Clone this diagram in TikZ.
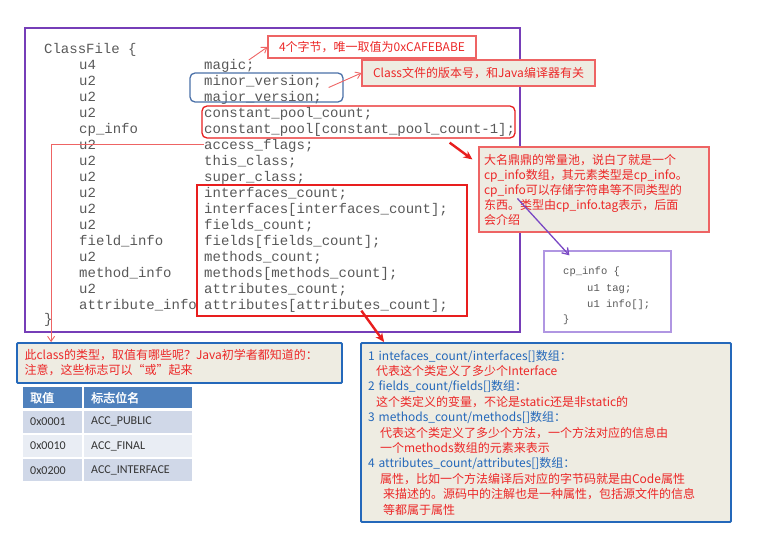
\documentclass[tikz,border=0pt]{standalone}
\usepackage{fontspec}
\setmonofont{Liberation Mono}
\newfontfamily\cjk[AutoFakeBold=2]{Noto Sans CJK SC}
\newfontfamily\tabfont{Carlito}
\usepackage{xcolor}
\usepackage{tikz}
\usetikzlibrary{arrows.meta,calc}
\definecolor{framepurple}{RGB}{118,62,184}
\definecolor{hlred}{RGB}{232,30,30}
\definecolor{notered}{RGB}{236,40,40}
\definecolor{noteborder}{RGB}{238,100,100}
\definecolor{noteblue}{RGB}{36,104,186}
\definecolor{verblue}{RGB}{74,112,168}
\definecolor{notefill}{RGB}{238,236,226}
\definecolor{codegray}{RGB}{88,88,88}
\definecolor{lavender}{RGB}{176,150,226}
\definecolor{arrowpurple}{RGB}{122,72,196}
\definecolor{tabhead}{RGB}{79,129,189}
\definecolor{rowdark}{RGB}{208,216,232}
\definecolor{rowlight}{RGB}{233,237,244}
\tikzset{
  code/.style={inner sep=0, anchor=west, text height=12, text depth=1,
               text=codegray, font=\ttfamily\fontsize{14}{16}\selectfont},
  small code/.style={code, text height=9, text depth=1,
               font=\ttfamily\fontsize{10.5}{12}\selectfont},
  hl/.style={draw, rectangle, line width=1.3pt, inner sep=0},
  note/.style={draw=noteborder, fill=notefill, rectangle, line width=1.1pt,
               inner sep=0, align=left, text=notered,
               font=\cjk\fontsize{12}{15}\selectfont},
  bnote/.style={note, draw=noteblue, line width=1.8pt, rounded corners=1pt},
  cell/.style={anchor=north west, inner xsep=7pt, inner ysep=0, align=left,
               text=black!80, font=\tabfont\fontsize{12}{14}\selectfont},
  SA/.style={-{Stealth[length=9pt,width=8pt]}, line width=2.4pt, hlred},
  TA/.style={-{Straight Barb[length=5pt,width=7pt]}, line width=0.9pt, noteborder},
  PA/.style={-{Straight Barb[length=6pt,width=8pt]}, line width=1.3pt, arrowpurple}
}
\begin{document}
\begin{tikzpicture}[x=1pt, y=-1pt]
\useasboundingbox (0,0) rectangle (761,535);

% ---- outer frame ----
\node[draw=framepurple, line width=2.6pt, minimum width=495, minimum height=304,
      inner sep=0] (FRAME) at (272.5,180) {};

% ---- ClassFile listing ----
\node[code] (CF) at (44,48) {ClassFile \{};
\node[code] (T1)  at (79,64)  {u4};
\node[code] (MAGIC) at (204,64) {magic;};
\node[code] (T2)  at (79,80)  {u2};
\node[code] (MINOR) at (204,80) {minor\_version;};
\node[code] (T3)  at (79,96)  {u2};
\node[code] (MAJOR) at (204,96) {major\_version;};
\node[code] (T4)  at (79,112) {u2};
\node[code] (CPC) at (204,112) {constant\_pool\_count;};
\node[code] (T5)  at (79,128) {cp\_info};
\node[code] (CP)  at (204,128) {constant\_pool[constant\_pool\_count-1];};
\node[code] (T6)  at (79,144) {u2};
\node[code] (ACC) at (204,144) {access\_flags;};
\node[code] (T7)  at (79,160) {u2};
\node[code] (THIS) at (204,160) {this\_class;};
\node[code] (T8)  at (79,176) {u2};
\node[code] (SUPER) at (204,176) {super\_class;};
\node[code] (T9)  at (79,192) {u2};
\node[code] (IFC) at (204,192) {interfaces\_count;};
\node[code] (T10) at (79,208) {u2};
\node[code] (IF)  at (204,208) {interfaces[interfaces\_count];};
\node[code] (T11) at (79,224) {u2};
\node[code] (FLC) at (204,224) {fields\_count;};
\node[code] (T12) at (79,240) {field\_info};
\node[code] (FL)  at (204,240) {fields[fields\_count];};
\node[code] (T13) at (79,256) {u2};
\node[code] (MTC) at (204,256) {methods\_count;};
\node[code] (T14) at (79,272) {method\_info};
\node[code] (MT)  at (204,272) {methods[methods\_count];};
\node[code] (T15) at (79,288) {u2};
\node[code] (ATC) at (204,288) {attributes\_count;};
\node[code] (T16) at (79,304) {attribute\_info};
\node[code] (AT)  at (204,304) {attributes[attributes\_count];};
\node[code] (CFEND) at (44,318) {\}};

% ---- highlight boxes ----
\node[hl, draw=verblue, rounded corners=5pt, minimum width=153, minimum height=29]
    (VER) at (266.5,87.5) {};
\node[hl, draw=hlred, rounded corners=5pt, minimum width=313, minimum height=32]
    (CPBOX) at (358.5,122) {};
\node[hl, draw=hlred, minimum width=270, minimum height=131]
    (MEMBOX) at (332,250.5) {};

% ---- notes ----
\node[note, fill=white, minimum width=208, minimum height=22] (N1) at (372,47)
    {4个字节，唯一取值为0xCAFEBABE};
\node[note, minimum width=233, minimum height=26] (N2) at (478.5,73)
    {Class文件的版本号，和Java编译器有关};
\node[note, text width=220, minimum width=230, minimum height=85] (N3) at (594,189.5)
    {大名鼎鼎的常量池，说白了就是一个\\
     cp\_info数组，其元素类型是cp\_info。\\
     cp\_info可以存储字符串等不同类型的\\
     东西。类型由cp\_info.tag表示，后面\\
     会介绍};

% ---- cp_info struct ----
\node[draw=lavender, line width=1.2pt, fill=white, minimum width=127,
      minimum height=81, inner sep=0] (CPI) at (607.5,291.5) {};
\node[small code] (CPI1) at (563,270) {cp\_info \{};
\node[small code] (CPI2) at (587,287) {u1 tag;};
\node[small code] (CPI3) at (587,303) {u1 info[];};
\node[small code] (CPI4) at (563,318) {\}};

% ---- access_flags note + table ----
\node[bnote, text width=310, minimum width=325, minimum height=40] (N4) at (179.5,363)
    {此class的类型，取值有哪些呢？Java初学者都知道的：\\
     注意，这些标志可以“或”起来};

\node[cell, fill=tabhead, text=white, text width=45, minimum height=21,
      font=\cjk\bfseries\fontsize{12}{14}\selectfont] (TH1) at (23,387) {取值};
\node[cell, fill=tabhead, text=white, text width=94, minimum height=21,
      font=\cjk\bfseries\fontsize{12}{14}\selectfont] (TH2) at (84,387) {标志位名};
\node[cell, fill=rowdark,  text width=45, minimum height=22] (R1A) at ($(TH1.south west)+(0,2)$) {0x0001};
\node[cell, fill=rowdark,  text width=94, minimum height=22] (R1B) at ($(TH2.south west)+(0,2)$) {ACC\_PUBLIC};
\node[cell, fill=rowlight, text width=45, minimum height=22] (R2A) at ($(R1A.south west)+(0,2)$) {0x0010};
\node[cell, fill=rowlight, text width=94, minimum height=22] (R2B) at ($(R1B.south west)+(0,2)$) {ACC\_FINAL};
\node[cell, fill=rowdark,  text width=45, minimum height=22] (R3A) at ($(R2A.south west)+(0,2)$) {0x0200};
\node[cell, fill=rowdark,  text width=94, minimum height=22] (R3B) at ($(R2B.south west)+(0,2)$) {ACC\_INTERFACE};

% ---- members note ----
\node[bnote, text width=356, minimum width=370, minimum height=179,
      font=\cjk\fontsize{12}{15.4}\selectfont] (N5) at (546,432.5)
    {\textcolor{noteblue}{1 intefaces\_count/interfaces[]数组：}\\
     \hspace*{8pt}代表这个类定义了多少个Interface\\
     \textcolor{noteblue}{2 fields\_count/fields[]数组：}\\
     \hspace*{8pt}这个类定义的变量，不论是static还是非static的\\
     \textcolor{noteblue}{3 methods\_count/methods[]数组：}\\
     \hspace*{12pt}代表这个类定义了多少个方法，一个方法对应的信息由\\
     \hspace*{12pt}一个methods数组的元素来表示\\
     \textcolor{noteblue}{4 attributes\_count/attributes[]数组：}\\
     \hspace*{12pt}属性，比如一个方法编译后对应的字节码就是由Code属性\\
     \hspace*{15pt}来描述的。源码中的注解也是一种属性，包括源文件的信息\\
     \hspace*{15pt}等都属于属性};

% ---- arrows ----
\draw[TA] ($(MAGIC.east)+(-6,-4)$) -- (N1.west);
\draw[TA] ($(VER.east)+(-15,0)$) -- (N2.west);
\draw[SA] ($(CPBOX.south east)!0.21!(CPBOX.south west)+(0,4)$) -- ($(N3.north west)+(-6,13)$);
\draw[TA] (ACC.west) -| ($(N4.north west)+(35,0)$);
\draw[PA] ($(N3.west)+(39,9)$) -- ($(CPI.north west)+(26,5)$);
\draw[SA] ($(MEMBOX.south west)+(165,-6)$) -- ($(N5.north west)+(24,0)$);

\end{tikzpicture}
\end{document}
